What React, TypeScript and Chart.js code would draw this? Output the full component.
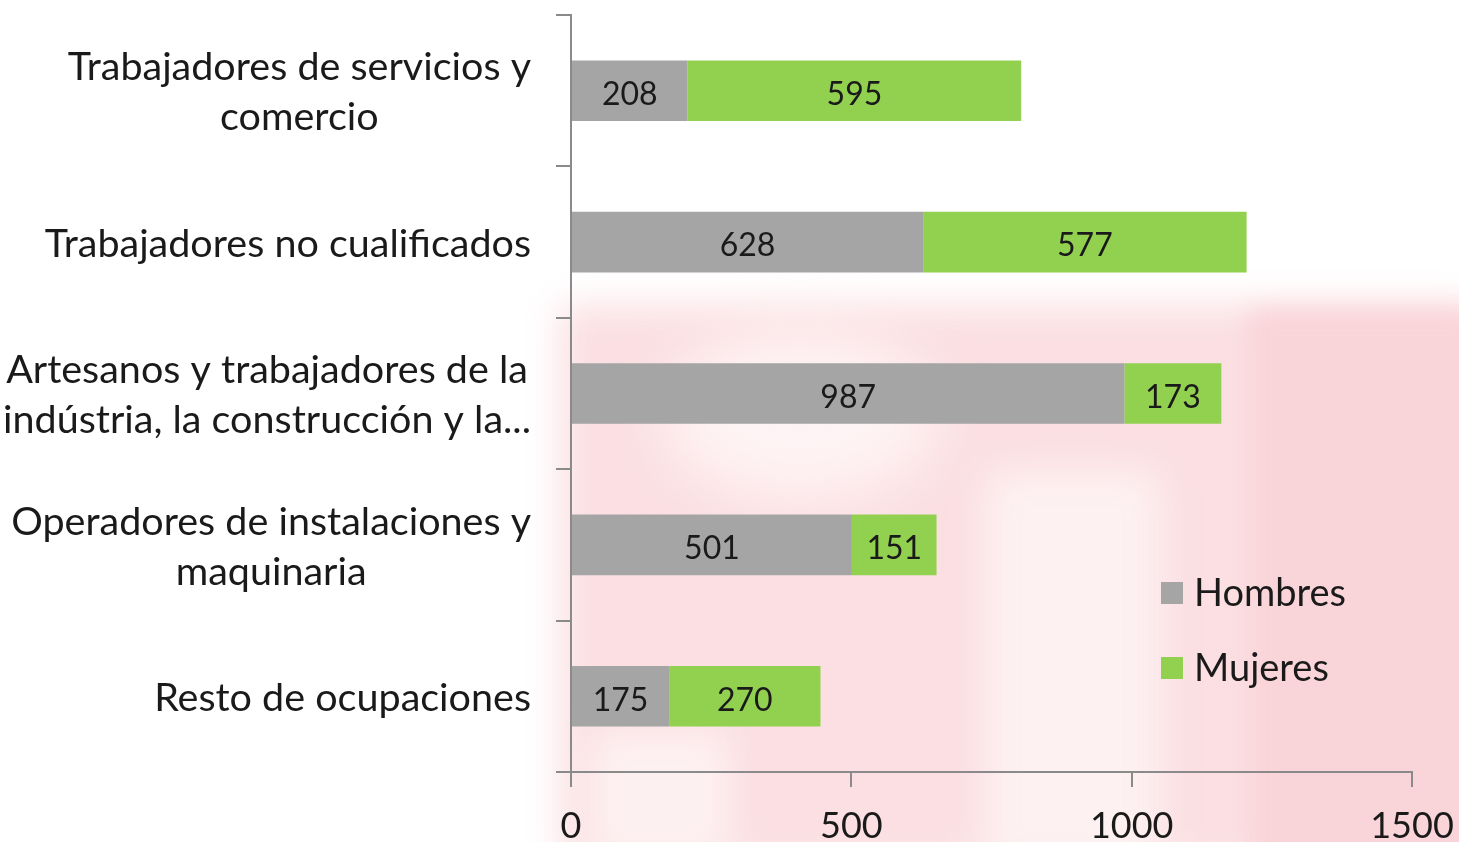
import React, { useEffect, useRef } from "react";
import { Chart, registerables } from "chart.js";

Chart.register(...registerables);

const categories: string[][] = [
  ["Trabajadores de servicios y", "comercio"],
  ["Trabajadores no cualificados"],
  ["Artesanos y trabajadores de la", "indústria, la construcción y la..."],
  ["Operadores de instalaciones y", "maquinaria"],
  ["Resto de ocupaciones"],
];
const hombres = [208, 628, 987, 501, 175];
const mujeres = [595, 577, 173, 151, 270];
const seriesNames = ["Hombres", "Mujeres"];
const seriesColors = ["#a5a5a5", "#92d050"];
const xMin = 0;
const xMax = 1500;
const xStep = 500;

const FONT = "Lato, 'Open Sans', sans-serif";
const TEXT = "#1a1a1a";
const AXIS = "#8a8a8a";

const yLabelPlugin = {
  id: "yLabels",
  afterDraw(chart: any) {
    const ctx = chart.ctx;
    const y = chart.scales.y;
    ctx.save();
    ctx.font = `39.5px ${FONT}`;
    ctx.fillStyle = TEXT;
    ctx.textAlign = "center";
    ctx.textBaseline = "middle";
    const right = chart.chartArea.left - 40;
    const lineH = 50;
    (chart.data.labels as string[][]).forEach((lab, i) => {
      const cy = y.getPixelForValue(i) + 2;
      const widths = lab.map((l) => ctx.measureText(l).width);
      const maxW = Math.max(...widths);
      const cx = right - maxW / 2;
      const n = lab.length;
      lab.forEach((line, k) => {
        ctx.fillText(line, cx, cy + (k - (n - 1) / 2) * lineH);
      });
    });
    ctx.restore();
  },
};

const valueLabelPlugin = {
  id: "valueLabels",
  afterDatasetsDraw(chart: any) {
    const ctx = chart.ctx;
    ctx.save();
    ctx.font = `32px ${FONT}`;
    ctx.fillStyle = TEXT;
    ctx.textAlign = "center";
    ctx.textBaseline = "middle";
    chart.data.datasets.forEach((ds: any, di: number) => {
      const meta = chart.getDatasetMeta(di);
      meta.data.forEach((bar: any, i: number) => {
        const cx = (bar.x + bar.base) / 2;
        ctx.fillText(String(ds.data[i]), cx, bar.y + 4);
      });
    });
    ctx.restore();
  },
};

const legendPlugin = {
  id: "customLegend",
  afterDraw(chart: any) {
    const ctx = chart.ctx;
    ctx.save();
    ctx.font = `38px ${FONT}`;
    ctx.textBaseline = "middle";
    ctx.textAlign = "left";
    const x0 = 1161;
    const ys = [593, 668];
    chart.data.datasets.forEach((ds: any, i: number) => {
      const cy = ys[i];
      ctx.fillStyle = ds.backgroundColor;
      ctx.fillRect(x0, cy - 11, 22, 22);
      ctx.fillStyle = TEXT;
      ctx.fillText(ds.label, x0 + 33, cy + 1);
    });
    ctx.restore();
  },
};

export default function App() {
  const ref = useRef<HTMLCanvasElement | null>(null);

  useEffect(() => {
    if (!ref.current) return;
    const chart = new Chart(ref.current, {
      type: "bar",
      data: {
        labels: categories as any,
        datasets: [
          {
            label: seriesNames[0],
            data: hombres,
            backgroundColor: seriesColors[0],
            barPercentage: 0.4,
            categoryPercentage: 1,
          },
          {
            label: seriesNames[1],
            data: mujeres,
            backgroundColor: seriesColors[1],
            barPercentage: 0.4,
            categoryPercentage: 1,
          },
        ],
      },
      options: {
        indexAxis: "y",
        animation: false,
        responsive: false,
        maintainAspectRatio: false,
        layout: { padding: { top: 15, right: 47, left: 0, bottom: 0 } },
        plugins: {
          legend: { display: false },
          tooltip: { enabled: false },
        },
        scales: {
          x: {
            stacked: true,
            min: xMin,
            max: xMax,
            ticks: {
              stepSize: xStep,
              color: TEXT,
              font: { family: FONT, size: 36 },
              padding: 18,
              maxRotation: 0,
              callback: (v: any) => String(v),
            },
            grid: {
              drawOnChartArea: false,
              drawTicks: true,
              tickLength: 15,
              color: AXIS,
              lineWidth: 2,
            },
            border: { display: true, color: AXIS, width: 2 },
            afterFit: (s: any) => {
              s.height = 70;
              s.paddingRight = 0;
              s.paddingLeft = 0;
            },
          },
          y: {
            stacked: true,
            ticks: { display: false },
            grid: {
              drawOnChartArea: false,
              drawTicks: true,
              tickLength: 15,
              color: AXIS,
              lineWidth: 2,
              offset: true,
            },
            border: { display: true, color: AXIS, width: 2 },
            afterFit: (s: any) => {
              s.width = 571;
              s.paddingTop = 0;
              s.paddingBottom = 0;
            },
          },
        },
      },
      plugins: [valueLabelPlugin, yLabelPlugin, legendPlugin],
    });
    return () => chart.destroy();
  }, []);

  const blob = (
    left: number,
    top: number,
    width: number,
    height: number,
    color: string,
    blur: number,
    radius: string = "0"
  ): React.CSSProperties => ({
    position: "absolute",
    left,
    top,
    width,
    height,
    background: color,
    filter: `blur(${blur}px)`,
    borderRadius: radius,
  });

  return (
    <div
      style={{
        position: "fixed",
        left: 0,
        top: 0,
        width: 1459,
        height: 842,
        overflow: "hidden",
        background: "#ffffff",
      }}
    >
      <div style={blob(560, 305, 920, 560, "#fbdfe2", 18)} />
      <div style={blob(660, 330, 280, 170, "#fef3f4", 30, "50%")} />
      <div style={blob(985, 470, 175, 400, "#fdf1f2", 20)} />
      <div style={blob(590, 730, 140, 130, "#fdf0f1", 18)} />
      <div style={blob(1250, 310, 230, 560, "#f9d4d8", 12)} />
      <canvas
        ref={ref}
        width={1459}
        height={842}
        style={{ position: "absolute", left: 0, top: 0, width: 1459, height: 842 }}
      />
    </div>
  );
}
